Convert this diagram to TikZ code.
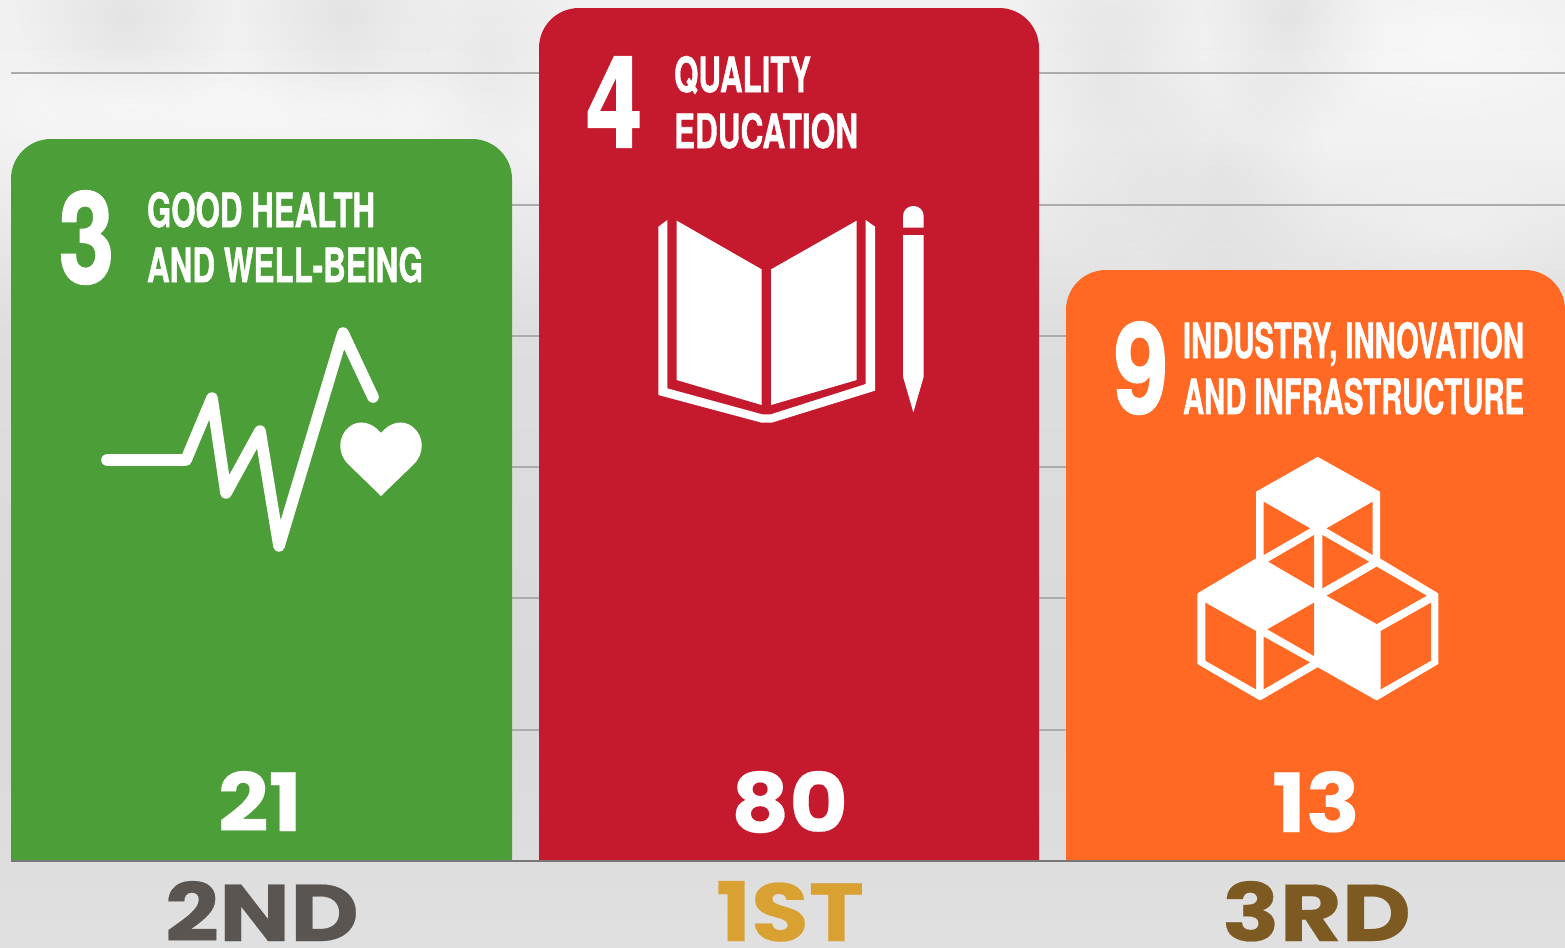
\documentclass[tikz,border=0pt]{standalone}
\usepackage{graphicx}
\usepackage{fontspec}
\usetikzlibrary{fadings}
\setmainfont{TeX Gyre Heros}
\newfontfamily\titlefont[FakeBold=1.2]{TeX Gyre Heros}
\newfontfamily\digitfont[FakeBold=1.8]{TeX Gyre Heros}
\newfontfamily\numfont[FakeBold=0.25]{Poppins}
\definecolor{sdggreen}{HTML}{4C9F38}
\definecolor{sdgred}{HTML}{C5192D}
\definecolor{sdgorange}{HTML}{FF6924}
\definecolor{gridgrey}{HTML}{ABABAB}
\definecolor{baseline}{HTML}{777777}
\definecolor{second}{HTML}{5B5551}
\definecolor{first}{HTML}{D9A032}
\definecolor{third}{HTML}{7D5A22}
\tikzfading[name=softblob,inner color=transparent!30,outer color=transparent!100]
\tikzset{
  fitlabel/.style={inner sep=0pt,outer sep=0pt,anchor=base west,text=#1},
  gridline/.style={draw=gridgrey,line width=1pt},
  bar/.style={fill=#1,draw=none},
  iconfill/.style={fill=white,draw=none},
  pulse/.style={draw=white,line width=5.8pt,line cap=round,line join=round},
  zoomgrid/.style={x=0.16667pt,y=-0.16667pt},
  darkblob/.style={fill=black,opacity=#1,path fading=softblob},
  lightblob/.style={fill=white,opacity=#1,path fading=softblob}
}
% name, x-left, x-right, y-top, y-baseline, colour, text
\newcommand{\fitlab}[7]{%
  \node[fitlabel=#6] (#1) at (#2,#5)
    {\resizebox{\dimexpr(#3pt-#2pt)/2\relax}{\dimexpr(#5pt-#4pt)/2\relax}{\titlefont\bfseries #7}};}
\newcommand{\fitdig}[7]{%
  \node[fitlabel=#6] (#1) at (#2,#5)
    {\resizebox{\dimexpr(#3pt-#2pt)/2\relax}{\dimexpr(#5pt-#4pt)/2\relax}{\digitfont\bfseries #7}};}
\newcommand{\fitnum}[7]{%
  \node[fitlabel=#6] (#1) at (#2,#5)
    {\resizebox{\dimexpr(#3pt-#2pt)/2\relax}{\dimexpr(#5pt-#4pt)/2\relax}{\numfont\bfseries #7}};}
\begin{document}
\begin{tikzpicture}[x=0.5pt,y=-0.5pt]
\useasboundingbox (0,0) rectangle (1565,948);
% background
\shade[top color=black!6,bottom color=black!5] (0,0) rectangle (1565,73);
\shade[top color=black!5,bottom color=black!5] (0,73) rectangle (1565,135);
\shade[top color=black!5,bottom color=black!13] (0,135) rectangle (1565,330);
\shade[top color=black!13,bottom color=black!15] (0,330) rectangle (1565,700);
\shade[top color=black!15,bottom color=black!12] (0,700) rectangle (1565,948);
% mottling of the backdrop
\fill[darkblob=0.07] (125,20) ellipse [x radius=110,y radius=130];
\fill[darkblob=0.07] (345,20) ellipse [x radius=110,y radius=130];
\fill[darkblob=0.05] (490,60) ellipse [x radius=90,y radius=110];
\fill[lightblob=0.7] (130,105) ellipse [x radius=170,y radius=60];
\fill[lightblob=0.6] (330,110) ellipse [x radius=190,y radius=50];
\fill[darkblob=0.07] (1110,80) ellipse [x radius=100,y radius=190];
\fill[darkblob=0.07] (1290,20) ellipse [x radius=90,y radius=130];
\fill[darkblob=0.06] (1220,170) ellipse [x radius=110,y radius=130];
\fill[lightblob=0.7] (1450,40) ellipse [x radius=170,y radius=90];
\fill[lightblob=0.4] (1450,230) ellipse [x radius=150,y radius=80];
% grid
\foreach \yy/\nm in {73/a,205/b,336/c,467/d,598/e,730/f}
  \draw[gridline] (11,\yy) -- (1565,\yy);
% bars
\path[bar=sdggreen] (11,861) [rounded corners=20pt] -- (11,139) -- (512,139) [sharp corners] -- (512,861) -- cycle;
\path[bar=sdgred] (539,861) [rounded corners=20pt] -- (539,8) -- (1039,8) [sharp corners] -- (1039,861) -- cycle;
\path[bar=sdgorange] (1066,861) [rounded corners=20pt] -- (1066,270) -- (1565,270) [sharp corners] -- (1565,861) -- cycle;
\draw[draw=baseline,line width=1pt] (11,861) -- (1565,861);
% titles
\fitdig{n3}{59}{114}{191}{283}{white}{3}
\fitlab{g1}{147}{375}{192}{227}{white}{GOOD HEALTH}
\fitlab{g2}{147}{423}{247}{282}{white}{AND WELL-BEING}
\fitdig{n4}{586}{642}{57}{147}{white}{4}
\fitlab{r1}{674}{811}{56}{92}{white}{QUALITY}
\fitlab{r2}{674}{858}{113}{148}{white}{EDUCATION}
\fitdig{n9}{1114}{1168}{322}{413}{white}{9}
\fitlab{o1}{1183}{1524}{322}{358}{white}{INDUSTRY, INNOVATION}
\fitlab{o2}{1183}{1524}{378}{414}{white}{AND INFRASTRUCTURE}
% pulse icon
\draw[pulse] (107,460) -- (186,460) -- (212,398) -- (226,493) -- (260,431) -- (279,546) -- (343,333) -- (373,397);
\path[iconfill] (381,496) -- (348,464) .. controls (337,453) and (338,436) .. (349,427) .. controls (359,419) and (372,422) .. (381,433) .. controls (390,422) and (403,419) .. (413,427) .. controls (424,436) and (425,453) .. (414,464) -- cycle;
% book icon
\begin{scope}[shift={(530,0)},zoomgrid]
\path[iconfill] (440,662) -- (695,808) -- (695,1215) -- (440,1140) -- cycle;
\path[iconfill] (723,808) -- (980,662) -- (980,1140) -- (723,1215) -- cycle;
\path[iconfill] (385,680) -- (412,660) -- (412,1165) -- (697,1243) -- (722,1243) -- (1007,1152) -- (1007,660) -- (1035,680) -- (1035,1172) -- (725,1268) -- (695,1268) -- (385,1185) -- cycle;
\path[iconfill] (1119,683) [rounded corners=5pt] -- (1119,618) -- (1181,618) [sharp corners] -- (1181,683) -- cycle;
\path[iconfill] (1119,705) -- (1181,705) -- (1181,1130) -- (1150,1237) -- (1119,1130) -- cycle;
\end{scope}
% cubes icon
\begin{scope}[shift={(1170,440)},zoomgrid]
\filldraw[fill=white,draw=white,line width=1pt,line join=round] (443,54) -- (627,157) -- (627,357) -- (802,462) -- (802,670) -- (620,778) -- (443,678) -- (270,778) -- (85,670) -- (85,462) -- (261,357) -- (261,157) -- cycle;
\path[bar=sdgorange] (281,185) -- (420,265) -- (281,345) -- cycle;
\path[bar=sdgorange] (608,185) -- (608,345) -- (470,265) -- cycle;
\path[bar=sdgorange] (432,285) -- (432,445) -- (295,365) -- cycle;
\path[bar=sdgorange] (457,285) -- (597,365) -- (457,445) -- cycle;
\path[bar=sdgorange] (620,380) -- (770,467) -- (620,552) -- (470,467) -- cycle;
\path[bar=sdgorange] (106,488) -- (258,573) -- (258,748) -- (106,662) -- cycle;
\path[bar=sdgorange] (432,488) -- (432,648) -- (292,568) -- cycle;
\path[bar=sdgorange] (281,590) -- (420,667) -- (281,748) -- cycle;
\path[bar=sdgorange] (783,488) -- (783,662) -- (632,748) -- (632,573) -- cycle;
\end{scope}
% values
\fitnum{v2}{218}{302}{771}{831}{white}{21}
\fitnum{v1}{731}{848}{771}{832}{white}{80}
\fitnum{v3}{1272}{1360}{771}{832}{white}{13}
% ranks
\fitnum{p2}{165}{359}{881}{941}{second}{2ND}
\fitnum{p1}{716}{864}{881}{941}{first}{1ST}
\fitnum{p3}{1222}{1411}{881}{941}{third}{3RD}
\end{tikzpicture}
\end{document}
